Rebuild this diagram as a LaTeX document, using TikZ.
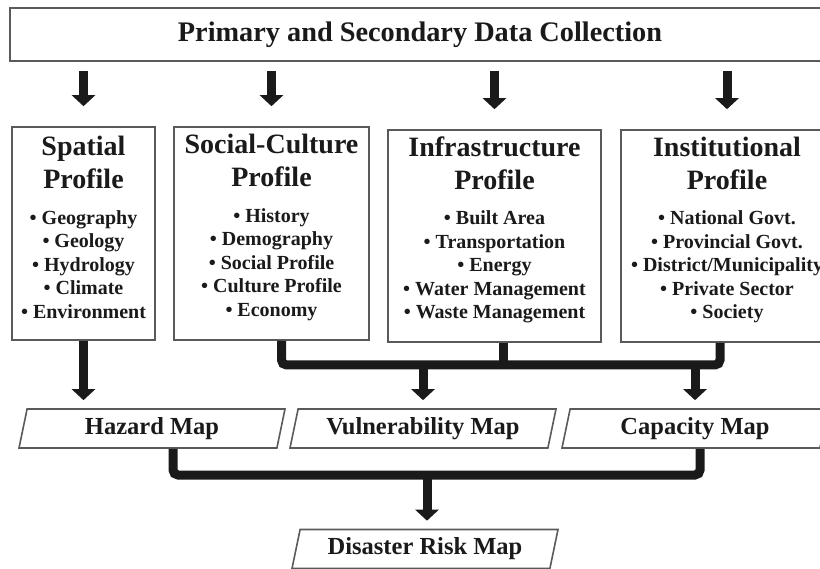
\documentclass[tikz,border=0pt]{standalone}
\usepackage{fontspec}
\setmainfont{Liberation Serif}
\usetikzlibrary{shapes.geometric, arrows.meta, calc}
\definecolor{inkdark}{HTML}{1A1A1A}
\definecolor{framegray}{HTML}{5A5A5A}
\newcommand{\itemfont}{\fontsize{20}{23.5}\selectfont\spaceskip=0pt\xspaceskip=0pt}

\tikzset{
  databox/.style={draw=framegray, line width=1.6pt, fill=white, text=inkdark,
    font=\bfseries\fontsize{28.3}{33}\selectfont},
  profilebox/.style={draw=framegray, line width=1.6pt, fill=white, text=inkdark,
    align=flush center, inner sep=0pt, font=\bfseries\fontsize{28}{33}\selectfont},
  mapbox/.style={draw=framegray, line width=1.6pt, fill=white, text=inkdark,
    font=\bfseries\fontsize{24.5}{28}\selectfont, trapezium, trapezium left angle=75,
    trapezium right angle=105, trapezium stretches body, minimum height=39, minimum width=266,
    inner ysep=4pt},
  flow/.style={draw=inkdark, line width=9pt, -{Triangle[width=23pt,length=11pt]}, shorten >=8pt},
  bus/.style={draw=inkdark, line width=9pt, rounded corners=5pt}
}

\begin{document}
\begin{tikzpicture}[x=1pt, y=-1pt]
  \useasboundingbox (0,0) rectangle (820,569);

  % Data collection header
  \node[databox, minimum width=820, minimum height=53] (collect) at (420,34.5)
    {Primary and Secondary Data Collection};

  % Profiles
  \node[profilebox, text width=143, minimum height=213] (spatial) at (83.5,233.5)
    {Spatial\\Profile\\[12pt]\itemfont
     • Geography\\• Geology\\• Hydrology\\• Climate\\• Environment\par\vspace{12pt}};
  \node[profilebox, text width=195, minimum height=213] (social) at (271.5,233.5)
    {Social-Culture\\Profile\\[12pt]\itemfont
     • History\\• Demography\\• Social Profile\\• Culture Profile\\• Economy\par\vspace{12pt}};
  \node[profilebox, text width=213, minimum height=212] (infra) at (494.5,236)
    {Infrastructure\\Profile\\[12pt]\itemfont
     • Built Area\\• Transportation\\• Energy\\• Water Management\\• Waste Management\par\vspace{12pt}};
  \node[profilebox, text width=212, minimum height=212] (inst) at (727,236)
    {Institutional\\Profile\\[12pt]\itemfont
     • National Govt.\\• Provincial Govt.\\• District/Municipality\\• Private Sector\\• Society\par\vspace{12pt}};

  % Maps
  \node[mapbox] (hazard) at (152,428.5) {Hazard Map};
  \node[mapbox] (vuln) at (423,428.5) {Vulnerability Map};
  \node[mapbox] (capacity) at (695,428.5) {Capacity Map};
  \node[mapbox] (risk) at (425,549) {Disaster Risk Map};

  % Arrows from the header
  \foreach \p in {spatial, social, infra, inst}
    \draw[flow, shorten <=9pt, shorten >=20pt] (collect.south -| \p.north) -- (\p.north);

  % Spatial profile to hazard map
  \draw[flow] (spatial.south) -- (spatial.south |- hazard.north);

  % Profiles to vulnerability and capacity
  \coordinate (jointA) at (503,365);
  \draw[bus] ([xshift=10]social.south) |- (jointA) -| ([xshift=-7]inst.south);
  \draw[bus] ([xshift=8.5]infra.south) -- (jointA);
  \draw[flow] (jointA -| vuln.north) -- (vuln.north);
  \draw[flow] (jointA -| capacity.north) -- (capacity.north);

  % Maps to disaster risk map
  \coordinate (jointB) at (427,475);
  \draw[bus] ([xshift=21]hazard.south) |- (jointB) -| ([xshift=5]capacity.south);
  \draw[flow] (jointB) -- (jointB |- risk.north);
\end{tikzpicture}
\end{document}
